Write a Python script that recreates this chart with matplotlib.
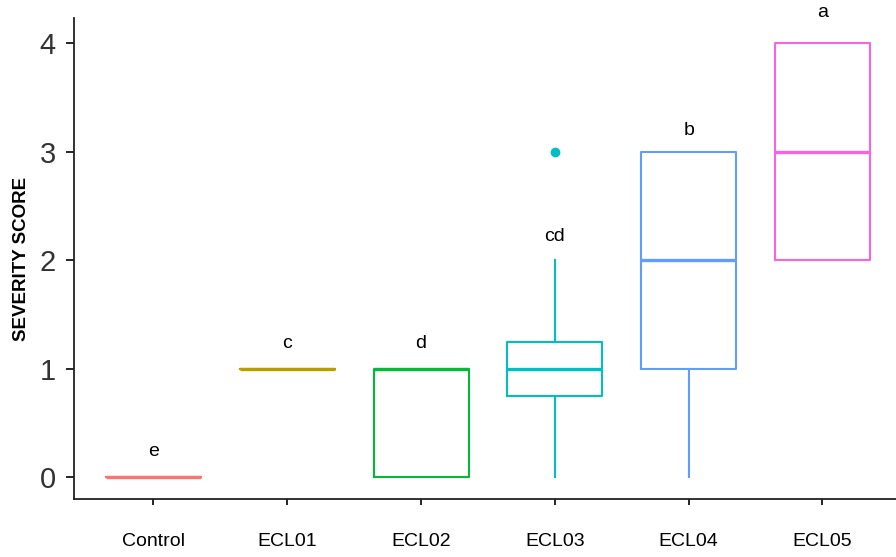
import matplotlib
matplotlib.use('Agg')
from matplotlib import pyplot as plt

plt.rcParams['font.family'] = ['Liberation Sans', 'DejaVu Sans']

groups = ['Control', 'ECL01', 'ECL02', 'ECL03', 'ECL04', 'ECL05']
q1 = [0, 1, 0, 0.75, 1, 2]
medians = [0, 1, 1, 1, 2, 3]
q3 = [0, 1, 1, 1.25, 3, 4]
whis_lo = [0, 1, 0, 0, 0, 2]
whis_hi = [0, 1, 1, 2, 3, 4]
outliers = [[], [], [], [3], [], []]
letters = ['e', 'c', 'd', 'cd', 'b', 'a']
letter_y = [0.24, 1.23, 1.23, 2.22, 3.19, 4.28]
colors = ['#F8766D', '#B79F00', '#00BA38', '#00BFC4', '#619CFF', '#F564E3']

stats = []
for i, g in enumerate(groups):
    stats.append({'label': g, 'q1': q1[i], 'med': medians[i], 'q3': q3[i],
                  'whislo': whis_lo[i], 'whishi': whis_hi[i], 'fliers': outliers[i]})

fig = plt.figure(figsize=(8.96, 5.57), dpi=100)
ax = fig.add_axes([0.0826, 0.1041, 0.9174, 0.8636])

pos = list(range(1, len(groups) + 1))
bp = ax.bxp(stats, positions=pos, widths=0.71, showcaps=False, patch_artist=False)

for i, c in enumerate(colors):
    bp['boxes'][i].set(color=c, linewidth=1.5)
    bp['medians'][i].set(color=c, linewidth=2.4, solid_capstyle='butt')
    for w in bp['whiskers'][2 * i:2 * i + 2]:
        w.set(color=c, linewidth=1.5)
    bp['fliers'][i].set(marker='o', markerfacecolor=c, markeredgecolor=c, markersize=6)

for i, lab in enumerate(letters):
    ax.text(pos[i], letter_y[i], lab, ha='center', va='center', fontsize=14, clip_on=False)

ax.set_xlim(0.406, 6.55)
ax.set_ylim(-0.2, 4.23)
ax.set_yticks([0, 1, 2, 3, 4])
ax.set_xticks(pos)
ax.set_xticklabels(groups, fontsize=14, color='black')
ax.tick_params(axis='y', labelsize=21, labelcolor='#333333', length=6, width=1.2, pad=7)
ax.tick_params(axis='x', length=4.5, width=1.2, pad=20)
ax.set_ylabel('SEVERITY SCORE', fontsize=13.5, fontweight='bold', labelpad=7)

for s in ['top', 'right']:
    ax.spines[s].set_visible(False)
for s in ['left', 'bottom']:
    ax.spines[s].set_linewidth(1.3)
    ax.spines[s].set_color('#222222')

fig.savefig('out.png', dpi=100)
